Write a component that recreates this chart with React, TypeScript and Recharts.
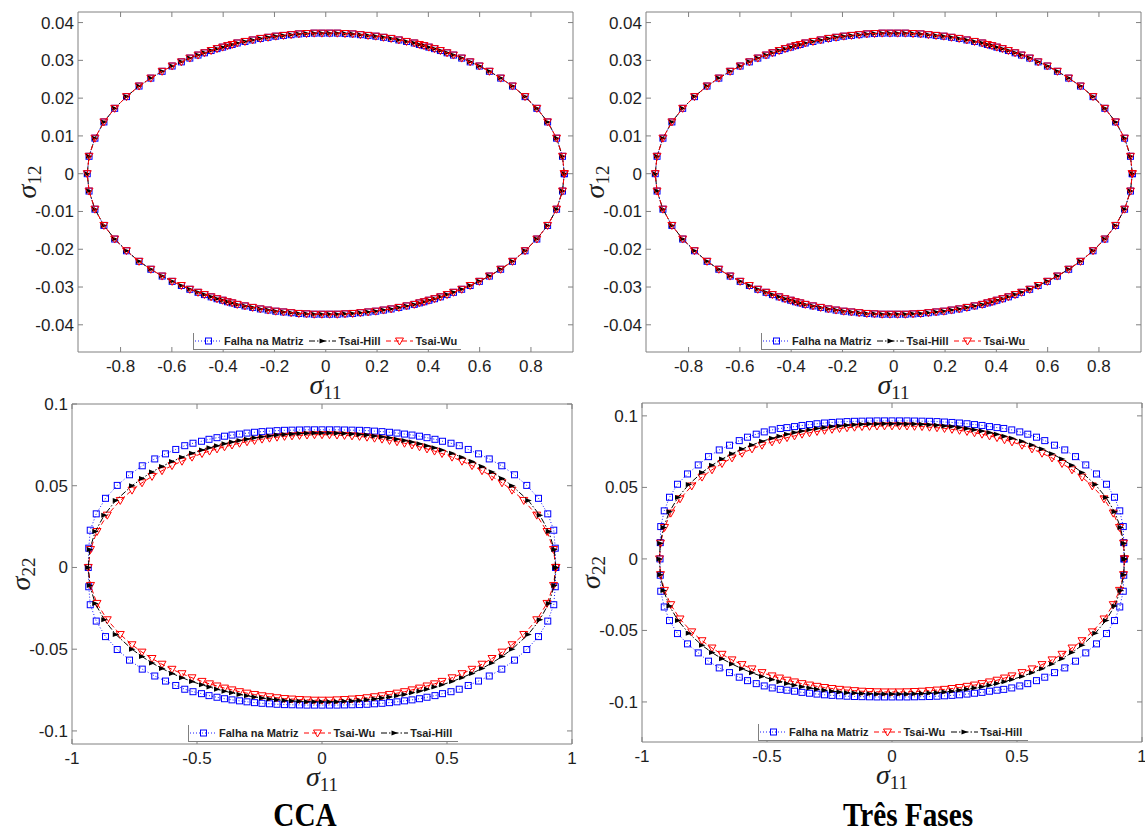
import React from "react";
import { ScatterChart, Scatter, XAxis, YAxis, ReferenceArea, Legend } from "recharts";

type Pt = [number, number];
type Kind = "falha" | "hill" | "wu";

// top row (sigma11 x sigma12): the three criteria coincide
const topEllipse: Pt[] = [
  [0.93, 0], [0.923, 0.0046], [0.9, 0.0094], [0.865, 0.0137], [0.823, 0.0173], [0.777, 0.0204], [0.728, 0.0232], [0.682, 0.0253], [0.638, 0.0271], [0.599, 0.0285], [0.563, 0.0296], [0.53, 0.0306], [0.498, 0.0314], [0.473, 0.032], [0.447, 0.0326], [0.424, 0.0331], [0.402, 0.0335], [0.383, 0.0339], [0.365, 0.0342], [0.345, 0.0346], [0.315, 0.035], [0.285, 0.0354], [0.255, 0.0358], [0.225, 0.0361], [0.195, 0.0364], [0.165, 0.0366], [0.135, 0.0368], [0.105, 0.037], [0.075, 0.0371], [0.045, 0.0372], [0.015, 0.0372],
  [-0.015, 0.0372], [-0.045, 0.0372], [-0.075, 0.0371], [-0.105, 0.037], [-0.135, 0.0368], [-0.165, 0.0366], [-0.195, 0.0364], [-0.225, 0.0361], [-0.255, 0.0358], [-0.285, 0.0354], [-0.315, 0.035], [-0.345, 0.0346], [-0.365, 0.0342], [-0.383, 0.0339], [-0.402, 0.0335], [-0.424, 0.0331], [-0.447, 0.0326], [-0.473, 0.032], [-0.498, 0.0314], [-0.53, 0.0306], [-0.563, 0.0296], [-0.599, 0.0285], [-0.638, 0.0271], [-0.682, 0.0253], [-0.728, 0.0232], [-0.777, 0.0204], [-0.823, 0.0173], [-0.865, 0.0137], [-0.9, 0.0094], [-0.923, 0.0046], [-0.93, 0],
  [-0.923, -0.0046], [-0.9, -0.0094], [-0.865, -0.0137], [-0.823, -0.0173], [-0.777, -0.0204], [-0.728, -0.0232], [-0.682, -0.0253], [-0.638, -0.0271], [-0.599, -0.0285], [-0.563, -0.0296], [-0.53, -0.0306], [-0.498, -0.0314], [-0.473, -0.032], [-0.447, -0.0326], [-0.424, -0.0331], [-0.402, -0.0335], [-0.383, -0.0339], [-0.365, -0.0342], [-0.345, -0.0346], [-0.315, -0.035], [-0.285, -0.0354], [-0.255, -0.0358], [-0.225, -0.0361], [-0.195, -0.0364], [-0.165, -0.0366], [-0.135, -0.0368], [-0.105, -0.037], [-0.075, -0.0371], [-0.045, -0.0372], [-0.015, -0.0372],
  [0.015, -0.0372], [0.045, -0.0372], [0.075, -0.0371], [0.105, -0.037], [0.135, -0.0368], [0.165, -0.0366], [0.195, -0.0364], [0.225, -0.0361], [0.255, -0.0358], [0.285, -0.0354], [0.315, -0.035], [0.345, -0.0346], [0.365, -0.0342], [0.383, -0.0339], [0.402, -0.0335], [0.424, -0.0331], [0.447, -0.0326], [0.473, -0.032], [0.498, -0.0314], [0.53, -0.0306], [0.563, -0.0296], [0.599, -0.0285], [0.638, -0.0271], [0.682, -0.0253], [0.728, -0.0232], [0.777, -0.0204], [0.823, -0.0173], [0.865, -0.0137], [0.9, -0.0094], [0.923, -0.0046], [0.93, 0],
];

// CCA (sigma11 x sigma22)
const ccaFalha: Pt[] = [
  [0.935, 0], [0.933, 0.0118], [0.927, 0.0228], [0.903, 0.0328], [0.866, 0.0423], [0.819, 0.0502], [0.77, 0.0567], [0.719, 0.0622], [0.669, 0.0664], [0.626, 0.0695], [0.585, 0.0722], [0.549, 0.0745], [0.516, 0.076], [0.482, 0.0772], [0.452, 0.0784], [0.42, 0.0794], [0.39, 0.0803], [0.36, 0.081], [0.33, 0.0816], [0.3, 0.0822], [0.27, 0.0827], [0.24, 0.0831], [0.21, 0.0834], [0.18, 0.0837], [0.15, 0.0839], [0.12, 0.084], [0.09, 0.0841], [0.06, 0.0842], [0.03, 0.0842], [0, 0.0842],
  [-0.03, 0.0842], [-0.06, 0.0842], [-0.09, 0.0841], [-0.12, 0.084], [-0.15, 0.0839], [-0.18, 0.0837], [-0.21, 0.0834], [-0.24, 0.0831], [-0.27, 0.0827], [-0.3, 0.0822], [-0.33, 0.0816], [-0.36, 0.081], [-0.39, 0.0803], [-0.42, 0.0794], [-0.452, 0.0784], [-0.482, 0.0772], [-0.516, 0.076], [-0.549, 0.0745], [-0.585, 0.0722], [-0.626, 0.0695], [-0.669, 0.0664], [-0.719, 0.0622], [-0.77, 0.0567], [-0.819, 0.0502], [-0.866, 0.0423], [-0.903, 0.0328], [-0.927, 0.0228], [-0.933, 0.0118], [-0.935, 0],
  [-0.933, -0.0118], [-0.927, -0.0228], [-0.903, -0.0328], [-0.866, -0.0423], [-0.819, -0.0502], [-0.77, -0.0567], [-0.719, -0.0622], [-0.669, -0.0664], [-0.626, -0.0695], [-0.585, -0.0722], [-0.549, -0.0745], [-0.516, -0.076], [-0.482, -0.0772], [-0.452, -0.0784], [-0.42, -0.0794], [-0.39, -0.0803], [-0.36, -0.081], [-0.33, -0.0816], [-0.3, -0.0822], [-0.27, -0.0827], [-0.24, -0.0831], [-0.21, -0.0834], [-0.18, -0.0837], [-0.15, -0.0839], [-0.12, -0.084], [-0.09, -0.0841], [-0.06, -0.0842], [-0.03, -0.0842], [0, -0.0842],
  [0.03, -0.0842], [0.06, -0.0842], [0.09, -0.0841], [0.12, -0.084], [0.15, -0.0839], [0.18, -0.0837], [0.21, -0.0834], [0.24, -0.0831], [0.27, -0.0827], [0.3, -0.0822], [0.33, -0.0816], [0.36, -0.081], [0.39, -0.0803], [0.42, -0.0794], [0.452, -0.0784], [0.482, -0.0772], [0.516, -0.076], [0.549, -0.0745], [0.585, -0.0722], [0.626, -0.0695], [0.669, -0.0664], [0.719, -0.0622], [0.77, -0.0567], [0.819, -0.0502], [0.866, -0.0423], [0.903, -0.0328], [0.927, -0.0228], [0.933, -0.0118], [0.935, 0],
];

const ccaTsaiWu: Pt[] = [
  [0.935, 0], [0.926, 0.011], [0.9, 0.022], [0.859, 0.032], [0.807, 0.041], [0.76, 0.0473], [0.72, 0.0518], [0.68, 0.0557], [0.64, 0.0592], [0.6, 0.0623], [0.56, 0.065], [0.52, 0.0675], [0.48, 0.0697], [0.45, 0.0712], [0.42, 0.0725], [0.39, 0.0738], [0.36, 0.0749], [0.33, 0.076], [0.3, 0.0769], [0.27, 0.0777], [0.24, 0.0785], [0.21, 0.0791], [0.18, 0.0797], [0.15, 0.0802], [0.12, 0.0805], [0.09, 0.0808], [0.06, 0.081], [0.03, 0.0812], [0, 0.0812],
  [-0.03, 0.0812], [-0.06, 0.081], [-0.09, 0.0808], [-0.12, 0.0805], [-0.15, 0.0802], [-0.18, 0.0797], [-0.21, 0.0791], [-0.24, 0.0785], [-0.27, 0.0777], [-0.3, 0.0769], [-0.33, 0.076], [-0.36, 0.0749], [-0.39, 0.0738], [-0.42, 0.0725], [-0.45, 0.0712], [-0.48, 0.0697], [-0.52, 0.0675], [-0.56, 0.065], [-0.6, 0.0623], [-0.64, 0.0592], [-0.68, 0.0557], [-0.72, 0.0518], [-0.76, 0.0473], [-0.807, 0.041], [-0.859, 0.032], [-0.9, 0.022], [-0.926, 0.011], [-0.935, 0],
  [-0.926, -0.011], [-0.9, -0.022], [-0.859, -0.032], [-0.807, -0.041], [-0.76, -0.0473], [-0.72, -0.0518], [-0.68, -0.0557], [-0.64, -0.0592], [-0.6, -0.0623], [-0.56, -0.065], [-0.52, -0.0675], [-0.48, -0.0697], [-0.45, -0.0712], [-0.42, -0.0725], [-0.39, -0.0738], [-0.36, -0.0749], [-0.33, -0.076], [-0.3, -0.0769], [-0.27, -0.0777], [-0.24, -0.0785], [-0.21, -0.0791], [-0.18, -0.0797], [-0.15, -0.0802], [-0.12, -0.0805], [-0.09, -0.0808], [-0.06, -0.081], [-0.03, -0.0812], [0, -0.0812],
  [0.03, -0.0812], [0.06, -0.081], [0.09, -0.0808], [0.12, -0.0805], [0.15, -0.0802], [0.18, -0.0797], [0.21, -0.0791], [0.24, -0.0785], [0.27, -0.0777], [0.3, -0.0769], [0.33, -0.076], [0.36, -0.0749], [0.39, -0.0738], [0.42, -0.0725], [0.45, -0.0712], [0.48, -0.0697], [0.52, -0.0675], [0.56, -0.065], [0.6, -0.0623], [0.64, -0.0592], [0.68, -0.0557], [0.72, -0.0518], [0.76, -0.0473], [0.807, -0.041], [0.859, -0.032], [0.9, -0.022], [0.926, -0.011], [0.935, 0],
];

const ccaTsaiHill: Pt[] = [
  [0.935, 0], [0.929, 0.011], [0.907, 0.022], [0.871, 0.032], [0.825, 0.041], [0.76, 0.05], [0.72, 0.0545], [0.68, 0.0584], [0.64, 0.0618], [0.6, 0.0648], [0.56, 0.0674], [0.52, 0.0698], [0.48, 0.0718], [0.45, 0.0732], [0.42, 0.0745], [0.39, 0.0757], [0.36, 0.0767], [0.33, 0.0777], [0.3, 0.0785], [0.27, 0.0793], [0.24, 0.0799], [0.21, 0.0805], [0.18, 0.081], [0.15, 0.0814], [0.12, 0.0817], [0.09, 0.0819], [0.06, 0.0821], [0.03, 0.0822], [0, 0.0822],
  [-0.03, 0.0822], [-0.06, 0.0821], [-0.09, 0.0819], [-0.12, 0.0817], [-0.15, 0.0814], [-0.18, 0.081], [-0.21, 0.0805], [-0.24, 0.0799], [-0.27, 0.0793], [-0.3, 0.0785], [-0.33, 0.0777], [-0.36, 0.0767], [-0.39, 0.0757], [-0.42, 0.0745], [-0.45, 0.0732], [-0.48, 0.0718], [-0.52, 0.0698], [-0.56, 0.0674], [-0.6, 0.0648], [-0.64, 0.0618], [-0.68, 0.0584], [-0.72, 0.0545], [-0.76, 0.05], [-0.825, 0.041], [-0.871, 0.032], [-0.907, 0.022], [-0.929, 0.011], [-0.935, 0],
  [-0.929, -0.011], [-0.907, -0.022], [-0.871, -0.032], [-0.825, -0.041], [-0.76, -0.05], [-0.72, -0.0545], [-0.68, -0.0584], [-0.64, -0.0618], [-0.6, -0.0648], [-0.56, -0.0674], [-0.52, -0.0698], [-0.48, -0.0718], [-0.45, -0.0732], [-0.42, -0.0745], [-0.39, -0.0757], [-0.36, -0.0767], [-0.33, -0.0777], [-0.3, -0.0785], [-0.27, -0.0793], [-0.24, -0.0799], [-0.21, -0.0805], [-0.18, -0.081], [-0.15, -0.0814], [-0.12, -0.0817], [-0.09, -0.0819], [-0.06, -0.0821], [-0.03, -0.0822], [0, -0.0822],
  [0.03, -0.0822], [0.06, -0.0821], [0.09, -0.0819], [0.12, -0.0817], [0.15, -0.0814], [0.18, -0.081], [0.21, -0.0805], [0.24, -0.0799], [0.27, -0.0793], [0.3, -0.0785], [0.33, -0.0777], [0.36, -0.0767], [0.39, -0.0757], [0.42, -0.0745], [0.45, -0.0732], [0.48, -0.0718], [0.52, -0.0698], [0.56, -0.0674], [0.6, -0.0648], [0.64, -0.0618], [0.68, -0.0584], [0.72, -0.0545], [0.76, -0.05], [0.825, -0.041], [0.871, -0.032], [0.907, -0.022], [0.929, -0.011], [0.935, 0],
];

// Tres Fases (sigma11 x sigma22)
const tfFalha: Pt[] = [
  [0.928, 0], [0.927, 0.0114], [0.925, 0.0226], [0.911, 0.0336], [0.89, 0.0431], [0.858, 0.0522], [0.818, 0.0594], [0.775, 0.0657], [0.734, 0.0715], [0.691, 0.0762], [0.65, 0.0795], [0.611, 0.0827], [0.578, 0.0851], [0.543, 0.0872], [0.511, 0.0888], [0.479, 0.0902], [0.447, 0.0912], [0.42, 0.0918], [0.39, 0.0925], [0.36, 0.0933], [0.33, 0.0939], [0.3, 0.0945], [0.27, 0.095], [0.24, 0.0954], [0.21, 0.0957], [0.18, 0.096], [0.15, 0.0962], [0.12, 0.0963], [0.09, 0.0964], [0.06, 0.0965], [0.03, 0.0965], [0, 0.0965],
  [-0.03, 0.0965], [-0.06, 0.0965], [-0.09, 0.0964], [-0.12, 0.0963], [-0.15, 0.0962], [-0.18, 0.096], [-0.21, 0.0957], [-0.24, 0.0954], [-0.27, 0.095], [-0.3, 0.0945], [-0.33, 0.0939], [-0.36, 0.0933], [-0.39, 0.0925], [-0.42, 0.0918], [-0.447, 0.0912], [-0.479, 0.0902], [-0.511, 0.0888], [-0.543, 0.0872], [-0.578, 0.0851], [-0.611, 0.0827], [-0.65, 0.0795], [-0.691, 0.0762], [-0.734, 0.0715], [-0.775, 0.0657], [-0.818, 0.0594], [-0.858, 0.0522], [-0.89, 0.0431], [-0.911, 0.0336], [-0.925, 0.0226], [-0.927, 0.0114], [-0.928, 0],
  [-0.927, -0.0114], [-0.925, -0.0226], [-0.911, -0.0336], [-0.89, -0.0431], [-0.858, -0.0522], [-0.818, -0.0594], [-0.775, -0.0657], [-0.734, -0.0715], [-0.691, -0.0762], [-0.65, -0.0795], [-0.611, -0.0827], [-0.578, -0.0851], [-0.543, -0.0872], [-0.511, -0.0888], [-0.479, -0.0902], [-0.447, -0.0912], [-0.42, -0.0918], [-0.39, -0.0925], [-0.36, -0.0933], [-0.33, -0.0939], [-0.3, -0.0945], [-0.27, -0.095], [-0.24, -0.0954], [-0.21, -0.0957], [-0.18, -0.096], [-0.15, -0.0962], [-0.12, -0.0963], [-0.09, -0.0964], [-0.06, -0.0965], [-0.03, -0.0965], [0, -0.0965],
  [0.03, -0.0965], [0.06, -0.0965], [0.09, -0.0964], [0.12, -0.0963], [0.15, -0.0962], [0.18, -0.096], [0.21, -0.0957], [0.24, -0.0954], [0.27, -0.095], [0.3, -0.0945], [0.33, -0.0939], [0.36, -0.0933], [0.39, -0.0925], [0.42, -0.0918], [0.447, -0.0912], [0.479, -0.0902], [0.511, -0.0888], [0.543, -0.0872], [0.578, -0.0851], [0.611, -0.0827], [0.65, -0.0795], [0.691, -0.0762], [0.734, -0.0715], [0.775, -0.0657], [0.818, -0.0594], [0.858, -0.0522], [0.89, -0.0431], [0.911, -0.0336], [0.925, -0.0226], [0.927, -0.0114], [0.928, 0],
];

const tfTsaiWu: Pt[] = [
  [0.93, 0], [0.926, 0.011], [0.91, 0.022], [0.885, 0.032], [0.848, 0.042], [0.801, 0.051], [0.76, 0.0572], [0.72, 0.0623], [0.68, 0.0667], [0.64, 0.0706], [0.6, 0.0739], [0.56, 0.0769], [0.52, 0.0795], [0.48, 0.0818], [0.45, 0.0833], [0.42, 0.0848], [0.39, 0.086], [0.36, 0.0872], [0.33, 0.0882], [0.3, 0.0891], [0.27, 0.0899], [0.24, 0.0906], [0.21, 0.0912], [0.18, 0.0917], [0.15, 0.0921], [0.12, 0.0925], [0.09, 0.0927], [0.06, 0.0929], [0.03, 0.093], [0, 0.093],
  [-0.03, 0.093], [-0.06, 0.0929], [-0.09, 0.0927], [-0.12, 0.0925], [-0.15, 0.0921], [-0.18, 0.0917], [-0.21, 0.0912], [-0.24, 0.0906], [-0.27, 0.0899], [-0.3, 0.0891], [-0.33, 0.0882], [-0.36, 0.0872], [-0.39, 0.086], [-0.42, 0.0848], [-0.45, 0.0833], [-0.48, 0.0818], [-0.52, 0.0795], [-0.56, 0.0769], [-0.6, 0.0739], [-0.64, 0.0706], [-0.68, 0.0667], [-0.72, 0.0623], [-0.76, 0.0572], [-0.801, 0.051], [-0.848, 0.042], [-0.885, 0.032], [-0.91, 0.022], [-0.926, 0.011], [-0.93, 0],
  [-0.926, -0.011], [-0.91, -0.022], [-0.885, -0.032], [-0.848, -0.042], [-0.801, -0.051], [-0.76, -0.0572], [-0.72, -0.0623], [-0.68, -0.0667], [-0.64, -0.0706], [-0.6, -0.0739], [-0.56, -0.0769], [-0.52, -0.0795], [-0.48, -0.0818], [-0.45, -0.0833], [-0.42, -0.0848], [-0.39, -0.086], [-0.36, -0.0872], [-0.33, -0.0882], [-0.3, -0.0891], [-0.27, -0.0899], [-0.24, -0.0906], [-0.21, -0.0912], [-0.18, -0.0917], [-0.15, -0.0921], [-0.12, -0.0925], [-0.09, -0.0927], [-0.06, -0.0929], [-0.03, -0.093], [0, -0.093],
  [0.03, -0.093], [0.06, -0.0929], [0.09, -0.0927], [0.12, -0.0925], [0.15, -0.0921], [0.18, -0.0917], [0.21, -0.0912], [0.24, -0.0906], [0.27, -0.0899], [0.3, -0.0891], [0.33, -0.0882], [0.36, -0.0872], [0.39, -0.086], [0.42, -0.0848], [0.45, -0.0833], [0.48, -0.0818], [0.52, -0.0795], [0.56, -0.0769], [0.6, -0.0739], [0.64, -0.0706], [0.68, -0.0667], [0.72, -0.0623], [0.76, -0.0572], [0.801, -0.051], [0.848, -0.042], [0.885, -0.032], [0.91, -0.022], [0.926, -0.011], [0.93, 0],
];

const tfTsaiHill: Pt[] = [
  [0.93, 0], [0.927, 0.011], [0.914, 0.022], [0.89, 0.033], [0.856, 0.043], [0.813, 0.052], [0.76, 0.0604], [0.72, 0.0655], [0.68, 0.0698], [0.64, 0.0735], [0.6, 0.0768], [0.56, 0.0796], [0.52, 0.0822], [0.48, 0.0843], [0.45, 0.0858], [0.42, 0.0871], [0.39, 0.0883], [0.36, 0.0894], [0.33, 0.0903], [0.3, 0.0911], [0.27, 0.0919], [0.24, 0.0925], [0.21, 0.093], [0.18, 0.0935], [0.15, 0.0938], [0.12, 0.0941], [0.09, 0.0943], [0.06, 0.0944], [0.03, 0.0945], [0, 0.0945],
  [-0.03, 0.0945], [-0.06, 0.0944], [-0.09, 0.0943], [-0.12, 0.0941], [-0.15, 0.0938], [-0.18, 0.0935], [-0.21, 0.093], [-0.24, 0.0925], [-0.27, 0.0919], [-0.3, 0.0911], [-0.33, 0.0903], [-0.36, 0.0894], [-0.39, 0.0883], [-0.42, 0.0871], [-0.45, 0.0858], [-0.48, 0.0843], [-0.52, 0.0822], [-0.56, 0.0796], [-0.6, 0.0768], [-0.64, 0.0735], [-0.68, 0.0698], [-0.72, 0.0655], [-0.76, 0.0604], [-0.813, 0.052], [-0.856, 0.043], [-0.89, 0.033], [-0.914, 0.022], [-0.927, 0.011], [-0.93, 0],
  [-0.927, -0.011], [-0.914, -0.022], [-0.89, -0.033], [-0.856, -0.043], [-0.813, -0.052], [-0.76, -0.0604], [-0.72, -0.0655], [-0.68, -0.0698], [-0.64, -0.0735], [-0.6, -0.0768], [-0.56, -0.0796], [-0.52, -0.0822], [-0.48, -0.0843], [-0.45, -0.0858], [-0.42, -0.0871], [-0.39, -0.0883], [-0.36, -0.0894], [-0.33, -0.0903], [-0.3, -0.0911], [-0.27, -0.0919], [-0.24, -0.0925], [-0.21, -0.093], [-0.18, -0.0935], [-0.15, -0.0938], [-0.12, -0.0941], [-0.09, -0.0943], [-0.06, -0.0944], [-0.03, -0.0945], [0, -0.0945],
  [0.03, -0.0945], [0.06, -0.0944], [0.09, -0.0943], [0.12, -0.0941], [0.15, -0.0938], [0.18, -0.0935], [0.21, -0.093], [0.24, -0.0925], [0.27, -0.0919], [0.3, -0.0911], [0.33, -0.0903], [0.36, -0.0894], [0.39, -0.0883], [0.42, -0.0871], [0.45, -0.0858], [0.48, -0.0843], [0.52, -0.0822], [0.56, -0.0796], [0.6, -0.0768], [0.64, -0.0735], [0.68, -0.0698], [0.72, -0.0655], [0.76, -0.0604], [0.813, -0.052], [0.856, -0.043], [0.89, -0.033], [0.914, -0.022], [0.927, -0.011], [0.93, 0],
];

const topXTicks = [-0.8, -0.6, -0.4, -0.2, 0, 0.2, 0.4, 0.6, 0.8];
const topYTicks = [-0.04, -0.03, -0.02, -0.01, 0, 0.01, 0.02, 0.03, 0.04];
const botXTicks = [-1, -0.5, 0, 0.5, 1];
const botYTicks = [-0.1, -0.05, 0, 0.05, 0.1];

const seriesNames: Record<Kind, string> = {
  falha: "Falha na Matriz",
  hill: "Tsai-Hill",
  wu: "Tsai-Wu",
};
const captions = ["CCA", "Três Fases"];

const FRAME = "#808080";
const INK = "#1e1e1e";
const SANS = "'Liberation Sans', Arial, sans-serif";
const SERIF = "'Liberation Serif', 'Times New Roman', serif";

const look: Record<Kind, { color: string; dash: string; w: number }> = {
  falha: { color: "#0000ff", dash: "1 2", w: 0.9 },
  hill: { color: "#000000", dash: "6 2 1.5 2", w: 1 },
  wu: { color: "#ff0000", dash: "5 3", w: 1 },
};

const rows = (pts: Pt[]) => pts.map(([x, y]) => ({ x, y }));

function Marker({ kind, cx, cy }: { kind: Kind; cx: number; cy: number }) {
  if (cx == null || cy == null) return null;
  if (kind === "falha")
    return <rect x={cx - 3} y={cy - 3} width={6} height={6} fill="none" stroke={look.falha.color} strokeWidth={1} />;
  if (kind === "wu")
    return (
      <polygon
        points={`${cx - 4},${cy - 3} ${cx + 4},${cy - 3} ${cx},${cy + 4}`}
        fill="none"
        stroke={look.wu.color}
        strokeWidth={1}
      />
    );
  return <polygon points={`${cx - 3},${cy - 2.5} ${cx - 3},${cy + 2.5} ${cx + 3.5},${cy}`} fill="#000" />;
}

function XTick({ x, y, payload, plotH }: any) {
  return (
    <g>
      <line x1={x} x2={x} y1={y} y2={y - 5} stroke={FRAME} />
      <line x1={x} x2={x} y1={y - plotH} y2={y - plotH + 5} stroke={FRAME} />
      <text x={x} y={y + 20} textAnchor="middle" fontFamily={SANS} fontSize={17} fill={INK}>
        {String(payload.value)}
      </text>
    </g>
  );
}

function YTick({ x, y, payload, plotW }: any) {
  return (
    <g>
      <line x1={x} x2={x + 5} y1={y} y2={y} stroke={FRAME} />
      <line x1={x + plotW} x2={x + plotW - 5} y1={y} y2={y} stroke={FRAME} />
      <text x={x - 4} y={y + 6} textAnchor="end" fontFamily={SANS} fontSize={17} fill={INK}>
        {String(payload.value)}
      </text>
    </g>
  );
}

function Sigma({ x, y, sub, rotate }: { x: number; y: number; sub: string; rotate?: boolean }) {
  return (
    <text
      x={x}
      y={y}
      textAnchor="middle"
      fontFamily={SERIF}
      fill={INK}
      transform={rotate ? `rotate(-90 ${x} ${y})` : undefined}
    >
      <tspan fontStyle="italic" fontSize={28}>σ</tspan>
      <tspan fontSize={19} dy={5}>{sub}</tspan>
    </text>
  );
}

function LegendBox({ order, width }: { order: Kind[]; width: number }) {
  return (
    <div
      style={{
        width,
        height: 17,
        boxSizing: "border-box",
        borderLeft: `1px solid ${FRAME}`,
        borderBottom: `1px solid ${FRAME}`,
        background: "#fff",
        display: "flex",
        alignItems: "center",
        fontFamily: SANS,
        fontWeight: 700,
        fontSize: 11,
        color: INK,
        whiteSpace: "nowrap",
      }}
    >
      {order.map((k) => (
        <span key={k} style={{ display: "inline-flex", alignItems: "center", marginRight: 5 }}>
          <svg width={29} height={12}>
            <line x1={1} x2={28} y1={6} y2={6} stroke={look[k].color} strokeWidth={look[k].w} strokeDasharray={look[k].dash} />
            <Marker kind={k} cx={14.5} cy={6} />
          </svg>
          <span style={{ marginLeft: 1 }}>{seriesNames[k]}</span>
        </span>
      ))}
    </div>
  );
}

type PanelProps = {
  frame: { l: number; r: number; t: number; b: number };
  xDomain: [number, number];
  yDomain: [number, number];
  xTicks: number[];
  yTicks: number[];
  ySub: string;
  xLabelDy: number;
  series: { kind: Kind; data: Pt[] }[];
  legend: { l: number; t: number; w: number };
};

const YW = 72;
const MT = 14;
const MR = 14;
const XH = 56;

function Panel({ frame, xDomain, yDomain, xTicks, yTicks, ySub, xLabelDy, series, legend }: PanelProps) {
  const plotW = frame.r - frame.l;
  const plotH = frame.b - frame.t;
  const left = frame.l - YW;
  const top = frame.t - MT;
  return (
    <div style={{ position: "absolute", left, top }}>
      <ScatterChart
        width={YW + plotW + MR}
        height={MT + plotH + XH}
        margin={{ top: MT, right: MR, bottom: 0, left: 0 }}
      >
        <XAxis
          xAxisId="x"
          type="number"
          dataKey="x"
          domain={xDomain}
          ticks={xTicks}
          interval={0}
          allowDataOverflow
          axisLine={false}
          tickLine={false}
          tickSize={0}
          tickMargin={0}
          height={XH}
          tick={(p: any) => <XTick {...p} plotH={plotH} />}
          label={() => <Sigma x={YW + plotW / 2} y={MT + plotH + xLabelDy} sub="11" />}
        />
        <YAxis
          yAxisId="y"
          type="number"
          dataKey="y"
          domain={yDomain}
          ticks={yTicks}
          interval={0}
          allowDataOverflow
          axisLine={false}
          tickLine={false}
          tickSize={0}
          tickMargin={0}
          width={YW}
          tick={(p: any) => <YTick {...p} plotW={plotW} />}
          label={() => <Sigma x={YW - 42} y={MT + plotH / 2} sub={ySub} rotate />}
        />
        <ReferenceArea
          xAxisId="x"
          yAxisId="y"
          x1={xDomain[0]}
          x2={xDomain[1]}
          y1={yDomain[0]}
          y2={yDomain[1]}
          fill="none"
          stroke={FRAME}
          strokeWidth={1}
          ifOverflow="visible"
        />
        {series.map((s) => (
          <Scatter
            key={s.kind}
            name={seriesNames[s.kind]}
            xAxisId="x"
            yAxisId="y"
            data={rows(s.data)}
            line={{ stroke: look[s.kind].color, strokeWidth: look[s.kind].w, strokeDasharray: look[s.kind].dash }}
            lineType="joint"
            shape={(p: any) => <Marker kind={s.kind} cx={p.cx} cy={p.cy} />}
            isAnimationActive={false}
          />
        ))}
        <Legend
          layout="vertical"
          align="center"
          verticalAlign="middle"
          wrapperStyle={{ left: legend.l - left, top: legend.t - top, width: legend.w, height: 17 }}
          content={() => <LegendBox order={series.map((s) => s.kind)} width={legend.w} />}
        />
      </ScatterChart>
    </div>
  );
}

const topOrder: Kind[] = ["falha", "hill", "wu"];

export default function App() {
  const topSeries = topOrder.map((kind) => ({ kind, data: topEllipse }));
  const ccaSeries = [
    { kind: "falha" as Kind, data: ccaFalha },
    { kind: "wu" as Kind, data: ccaTsaiWu },
    { kind: "hill" as Kind, data: ccaTsaiHill },
  ];
  const tfSeries = [
    { kind: "falha" as Kind, data: tfFalha },
    { kind: "wu" as Kind, data: tfTsaiWu },
    { kind: "hill" as Kind, data: tfTsaiHill },
  ];
  const captionStyle: React.CSSProperties = {
    position: "absolute",
    top: 796,
    width: 300,
    textAlign: "center",
    fontFamily: SERIF,
    fontWeight: 700,
    fontSize: 34,
    lineHeight: "37px",
    color: "#000",
    transform: "scaleX(0.86)",
  };
  return (
    <div
      style={{
        position: "absolute",
        left: 0,
        top: 0,
        width: 1145,
        height: 833,
        overflow: "hidden",
        background: "#fff",
      }}
    >
      <Panel
        frame={{ l: 78, r: 573, t: 12, b: 352 }}
        xDomain={[-0.966, 0.964]}
        yDomain={[-0.0472, 0.0428]}
        xTicks={topXTicks}
        yTicks={topYTicks}
        ySub="12"
        xLabelDy={42}
        series={topSeries}
        legend={{ l: 193, t: 333, w: 268 }}
      />
      <Panel
        frame={{ l: 646, r: 1141, t: 12, b: 352 }}
        xDomain={[-0.966, 0.964]}
        yDomain={[-0.0472, 0.0428]}
        xTicks={topXTicks}
        yTicks={topYTicks}
        ySub="12"
        xLabelDy={42}
        series={topSeries}
        legend={{ l: 761, t: 333, w: 268 }}
      />
      <Panel
        frame={{ l: 72, r: 572, t: 404, b: 744 }}
        xDomain={[-1, 1]}
        yDomain={[-0.108, 0.1]}
        xTicks={botXTicks}
        yTicks={botYTicks}
        ySub="22"
        xLabelDy={42}
        series={ccaSeries}
        legend={{ l: 188, t: 725, w: 270 }}
      />
      <Panel
        frame={{ l: 642, r: 1142, t: 403, b: 742 }}
        xDomain={[-1, 1]}
        yDomain={[-0.128, 0.109]}
        xTicks={botXTicks}
        yTicks={botYTicks}
        ySub="22"
        xLabelDy={42}
        series={tfSeries}
        legend={{ l: 758, t: 724, w: 270 }}
      />
      <div style={{ ...captionStyle, left: 305 - 150 }}>{captions[0]}</div>
      <div style={{ ...captionStyle, left: 908 - 150 }}>{captions[1]}</div>
    </div>
  );
}
